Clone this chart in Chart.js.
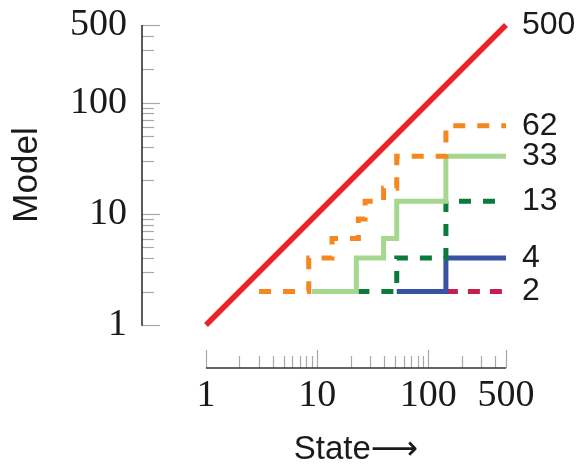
<!DOCTYPE html>
<html lang="en">
<head>
  <meta charset="UTF-8">
  <title>Model vs State</title>
  <script src="https://cdn.jsdelivr.net/npm/chart.js"></script>
  <style>
    body { margin: 0; background: #fff; }
    #wrap { width: 579px; height: 470px; }
  </style>
</head>
<body>
<div id="wrap"><canvas id="myChart" width="579" height="470"></canvas></div>
<script>
  // axis range and labels
  const axisMin = 1;
  const axisMax = 500;
  const axisLabels = [1, 10, 100, 500];
  const endLabels = [2, 4, 13, 33, 62, 500]; // values written at the right end of each line

  // series: x where a step starts, y the level from there on
  const redX = [1, 500];
  const redY = [1, 500];
  const orangeX = [3, 8.4, 13.6, 23.5, 27, 39.6, 52, 144, 500];
  const orangeY = [2, 4, 6, 9, 13, 17, 33, 62, 62];
  const lightGreenX = [9, 22.5, 39.6, 52, 144, 500];
  const lightGreenY = [2, 4, 6, 13, 33, 33];
  const darkGreenX = [23, 52, 144, 500];
  const darkGreenY = [2, 4, 13, 13];
  const blueX = [52, 144, 500];
  const blueY = [2, 4, 4];
  const crimsonX = [144, 500];
  const crimsonY = [2, 2];

  function pts(xs, ys) {
    return xs.map((x, i) => ({ x: x, y: ys[i] }));
  }

  // keep only 1..9 x 10^n ticks (drop the 15, 150 ones chart.js adds)
  function wholeTicks(scale) {
    scale.ticks = scale.ticks.filter(t => {
      const sig = t.value / Math.pow(10, Math.floor(Math.log10(t.value) + 1e-9));
      return Math.abs(sig - Math.round(sig)) < 1e-6;
    });
  }

  // detached axis lines with inward ticks, drawn from the chart's own scales
  const spines = {
    id: 'spines',
    afterDraw(chart) {
      const ctx = chart.ctx;
      const xs = chart.scales.x;
      const ys = chart.scales.y;
      const axisX = 142;
      const axisY = 368;
      ctx.save();
      ctx.strokeStyle = '#a8a8a8';
      ctx.lineWidth = 1.2;
      ys.ticks.forEach(t => {
        const p = Math.round(ys.getPixelForValue(t.value)) + 0.5;
        const len = axisLabels.includes(t.value) ? 18 : 12;
        ctx.beginPath();
        ctx.moveTo(axisX, p);
        ctx.lineTo(axisX + len, p);
        ctx.stroke();
      });
      xs.ticks.forEach(t => {
        const p = Math.round(xs.getPixelForValue(t.value)) + 0.5;
        const len = axisLabels.includes(t.value) ? 18 : 12;
        ctx.beginPath();
        ctx.moveTo(p, axisY);
        ctx.lineTo(p, axisY - len);
        ctx.stroke();
      });
      ctx.strokeStyle = '#333';
      ctx.lineWidth = 1.6;
      ctx.beginPath();
      ctx.moveTo(axisX, ys.getPixelForValue(axisMax));
      ctx.lineTo(axisX, ys.getPixelForValue(axisMin) + 0.8);
      ctx.moveTo(xs.getPixelForValue(axisMin), axisY);
      ctx.lineTo(xs.getPixelForValue(axisMax), axisY);
      ctx.stroke();
      ctx.restore();
    }
  };

  function lineSet(data, color, dash, width, stepped) {
    return {
      data: data,
      borderColor: color,
      borderWidth: width,
      borderDash: dash,
      borderCapStyle: 'butt',
      borderJoinStyle: 'miter',
      stepped: stepped,
      pointRadius: 0,
      fill: false,
      clip: false
    };
  }

  const serif = { family: "'Liberation Serif', 'DejaVu Serif', serif", size: 38 };
  const sans = "'Liberation Sans', 'DejaVu Sans', Arial, sans-serif";
  const noGrid = { display: false, drawTicks: false };

  new Chart(document.getElementById('myChart').getContext('2d'), {
    type: 'line',
    data: {
      datasets: [
        lineSet(pts(redX, redY), '#ec2227', [], 5.5, false),
        lineSet(pts(orangeX, orangeY), '#f6861f', [12, 12], 5, 'before'),
        lineSet(pts(lightGreenX, lightGreenY), '#a6d78e', [], 5, 'before'),
        lineSet(pts(darkGreenX, darkGreenY), '#0b7b3b', [12, 12], 5, 'before'),
        lineSet(pts(blueX, blueY), '#3953a4', [], 5, 'before'),
        lineSet(pts(crimsonX, crimsonY), '#c4204b', [12, 10], 5, 'before')
      ]
    },
    options: {
      responsive: false,
      animation: false,
      layout: { padding: { top: 25, left: 0, right: 0, bottom: 0 } },
      plugins: { legend: { display: false }, tooltip: { enabled: false } },
      scales: {
        x: {
          type: 'logarithmic',
          min: axisMin,
          max: axisMax,
          grid: noGrid,
          border: { display: false },
          afterBuildTicks: wholeTicks,
          afterFit: s => { s.height = 145; s.paddingLeft = 0; s.paddingRight = 0; },
          ticks: {
            autoSkip: false,
            maxRotation: 0,
            padding: 48,
            color: '#1a1a1a',
            font: serif,
            callback: v => axisLabels.includes(v) ? String(v) : ''
          },
          title: {
            display: true,
            text: 'State\u27F6',
            color: '#1a1a1a',
            font: { family: sans, size: 33 },
            padding: { top: 0, bottom: 0 }
          }
        },
        y: {
          type: 'logarithmic',
          min: axisMin,
          max: axisMax,
          grid: noGrid,
          border: { display: false },
          afterBuildTicks: wholeTicks,
          afterFit: s => { s.width = 206; s.paddingTop = 0; s.paddingBottom = 0; },
          ticks: {
            autoSkip: false,
            padding: 79,
            color: '#1a1a1a',
            font: serif,
            callback: v => axisLabels.includes(v) ? String(v) : ''
          },
          title: {
            display: true,
            text: 'Model',
            color: '#1a1a1a',
            font: { family: sans, size: 35 },
            padding: { top: 6, bottom: 0 }
          }
        },
        y2: {
          type: 'logarithmic',
          position: 'right',
          min: axisMin,
          max: axisMax,
          grid: noGrid,
          border: { display: false },
          afterBuildTicks: s => { s.ticks = endLabels.map(v => ({ value: v })); },
          afterFit: s => { s.width = 73; s.paddingTop = 0; s.paddingBottom = 0; },
          ticks: {
            autoSkip: false,
            padding: 16,
            color: '#1a1a1a',
            font: { family: sans, size: 32 },
            callback: v => String(v)
          }
        }
      }
    },
    plugins: [spines]
  });
</script>
</body>
</html>
